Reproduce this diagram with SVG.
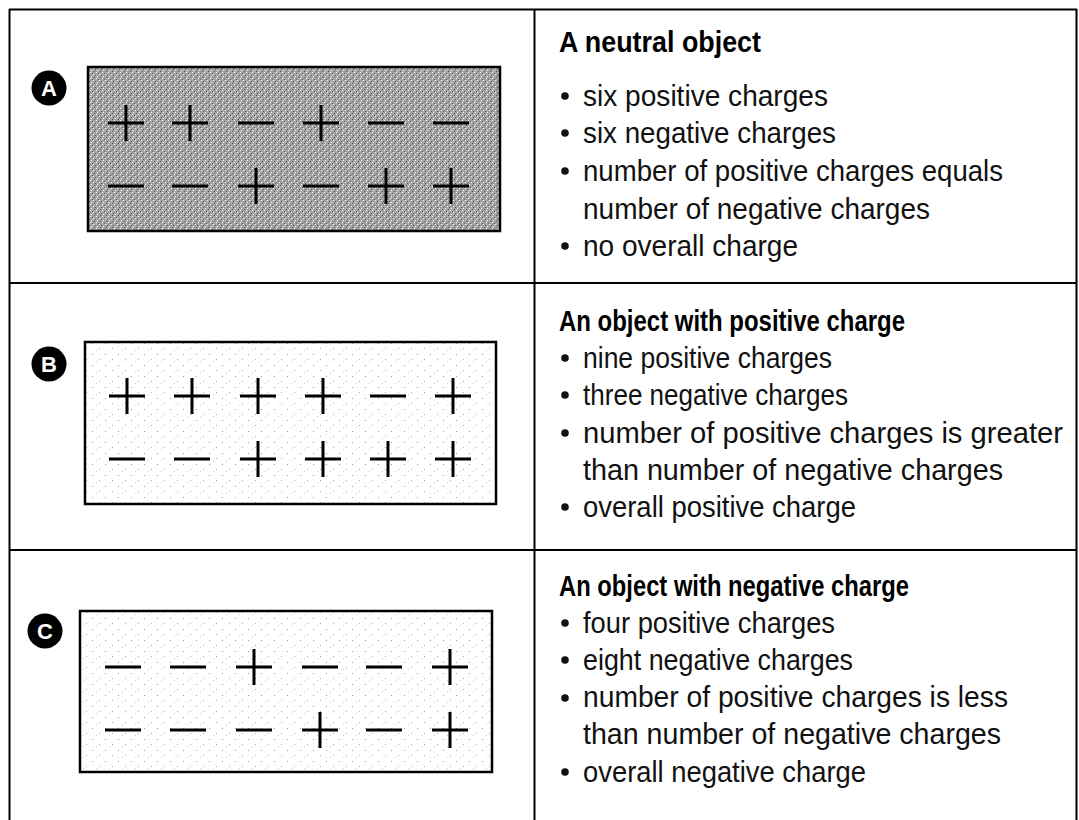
<svg xmlns="http://www.w3.org/2000/svg" width="1079" height="820" viewBox="0 0 1079 820">
<style>
.grid{stroke:#000;stroke-width:2;fill:none}
.box{stroke:#000;stroke-width:2.5}
.sg{stroke:#000;stroke-width:3;fill:none;stroke-linecap:butt}
.ttl{font-family:"Liberation Sans",Arial,sans-serif;font-weight:bold;font-size:30px;fill:#000}
.bt{font-family:"Liberation Sans",Arial,sans-serif;font-size:30px;fill:#111}
.lbl{font-family:"Liberation Sans",Arial,sans-serif;font-weight:bold;font-size:22px;fill:#fff;text-anchor:middle}
.dot{fill:#111}
</style>
<defs>
<pattern id="dark" width="6" height="6" patternUnits="userSpaceOnUse">
<rect width="6" height="6" fill="#a4a4a4"/>
<rect x="0" y="0" width="1" height="1" fill="#fff"/>
<rect x="3" y="2" width="1" height="1" fill="#fff"/>
<rect x="1" y="4" width="1" height="1" fill="#fff"/>
<rect x="4" y="5" width="1" height="1" fill="#555"/>
<rect x="2" y="1" width="1" height="1" fill="#555"/>
<rect x="5" y="3" width="1" height="1" fill="#555"/>
</pattern>
<pattern id="light" width="13" height="11" patternUnits="userSpaceOnUse">
<rect width="13" height="11" fill="#fff"/>
<rect x="1" y="2" width="1" height="1" fill="#999"/>
<rect x="8" y="7" width="1" height="1" fill="#aaa"/>
<rect x="5" y="9" width="1" height="1" fill="#ccc"/>
</pattern>
<path id="plus" d="M-18 0H18M0 -18V18"/>
<path id="minus" d="M-18 0H18"/>
</defs>
<rect width="1079" height="820" fill="#fff"/>
<g id="table" class="grid">
<path d="M9 9.5H1077M9 283H1077M9 550H1077M9.5 9V820M534.5 9V820M1076.5 9V820"/>
</g>
<g id="rowA">
<circle cx="49" cy="88" r="17.5" fill="#000"/>
<text class="lbl" x="49" y="96">A</text>
<rect class="box" x="88" y="67" width="412" height="164" fill="url(#dark)"/>
<g class="sg">
<use href="#plus" x="126" y="123"/><use href="#plus" x="190" y="123"/><use href="#minus" x="256" y="123"/><use href="#plus" x="321" y="123"/><use href="#minus" x="386" y="123"/><use href="#minus" x="451" y="123"/>
<use href="#minus" x="126" y="186"/><use href="#minus" x="190" y="186"/><use href="#plus" x="256" y="186"/><use href="#minus" x="321" y="186"/><use href="#plus" x="386" y="186"/><use href="#plus" x="451" y="186"/>
</g>
<text class="ttl" x="559" y="52" textLength="202" lengthAdjust="spacingAndGlyphs">A neutral object</text>
<circle class="dot" cx="565" cy="96" r="3.8"/><text class="bt" x="583" y="106" textLength="245" lengthAdjust="spacingAndGlyphs">six positive charges</text>
<circle class="dot" cx="565" cy="133" r="3.8"/><text class="bt" x="583" y="143" textLength="253" lengthAdjust="spacingAndGlyphs">six negative charges</text>
<circle class="dot" cx="565" cy="171" r="3.8"/><text class="bt" x="583" y="181" textLength="420" lengthAdjust="spacingAndGlyphs">number of positive charges equals</text>
<text class="bt" x="583" y="219" textLength="347" lengthAdjust="spacingAndGlyphs">number of negative charges</text>
<circle class="dot" cx="565" cy="246" r="3.8"/><text class="bt" x="583" y="256" textLength="215" lengthAdjust="spacingAndGlyphs">no overall charge</text>
</g>
<g id="rowB">
<circle cx="49" cy="364" r="17.5" fill="#000"/>
<text class="lbl" x="49" y="372">B</text>
<rect class="box" x="85" y="342" width="411" height="162" fill="url(#light)"/>
<g class="sg">
<use href="#plus" x="127" y="396"/><use href="#plus" x="192" y="396"/><use href="#plus" x="258" y="396"/><use href="#plus" x="323" y="396"/><use href="#minus" x="388" y="396"/><use href="#plus" x="453" y="396"/>
<use href="#minus" x="127" y="459"/><use href="#minus" x="192" y="459"/><use href="#plus" x="258" y="459"/><use href="#plus" x="323" y="459"/><use href="#plus" x="388" y="459"/><use href="#plus" x="453" y="459"/>
</g>
<text class="ttl" x="559" y="331" textLength="346" lengthAdjust="spacingAndGlyphs">An object with positive charge</text>
<circle class="dot" cx="565" cy="358" r="3.8"/><text class="bt" x="583" y="368" textLength="249" lengthAdjust="spacingAndGlyphs">nine positive charges</text>
<circle class="dot" cx="565" cy="395" r="3.8"/><text class="bt" x="583" y="405" textLength="265" lengthAdjust="spacingAndGlyphs">three negative charges</text>
<circle class="dot" cx="565" cy="433" r="3.8"/><text class="bt" x="583" y="443" textLength="480" lengthAdjust="spacingAndGlyphs">number of positive charges is greater</text>
<text class="bt" x="583" y="480" textLength="420" lengthAdjust="spacingAndGlyphs">than number of negative charges</text>
<circle class="dot" cx="565" cy="507" r="3.8"/><text class="bt" x="583" y="517" textLength="273" lengthAdjust="spacingAndGlyphs">overall positive charge</text>
</g>
<g id="rowC">
<circle cx="45" cy="631" r="17.5" fill="#000"/>
<text class="lbl" x="45" y="639">C</text>
<rect class="box" x="80" y="611" width="412" height="161" fill="url(#light)"/>
<g class="sg">
<use href="#minus" x="123" y="667"/><use href="#minus" x="188" y="667"/><use href="#plus" x="254" y="667"/><use href="#minus" x="320" y="667"/><use href="#minus" x="384" y="667"/><use href="#plus" x="450" y="667"/>
<use href="#minus" x="123" y="730"/><use href="#minus" x="188" y="730"/><use href="#minus" x="254" y="730"/><use href="#plus" x="320" y="730"/><use href="#minus" x="384" y="730"/><use href="#plus" x="450" y="730"/>
</g>
<text class="ttl" x="559" y="596" textLength="350" lengthAdjust="spacingAndGlyphs">An object with negative charge</text>
<circle class="dot" cx="565" cy="623" r="3.8"/><text class="bt" x="583" y="633" textLength="252" lengthAdjust="spacingAndGlyphs">four positive charges</text>
<circle class="dot" cx="565" cy="660" r="3.8"/><text class="bt" x="583" y="670" textLength="270" lengthAdjust="spacingAndGlyphs">eight negative charges</text>
<circle class="dot" cx="565" cy="698" r="3.8"/><text class="bt" x="583" y="707" textLength="425" lengthAdjust="spacingAndGlyphs">number of positive charges is less</text>
<text class="bt" x="583" y="744" textLength="418" lengthAdjust="spacingAndGlyphs">than number of negative charges</text>
<circle class="dot" cx="565" cy="772" r="3.8"/><text class="bt" x="583" y="782" textLength="283" lengthAdjust="spacingAndGlyphs">overall negative charge</text>
</g>
</svg>
